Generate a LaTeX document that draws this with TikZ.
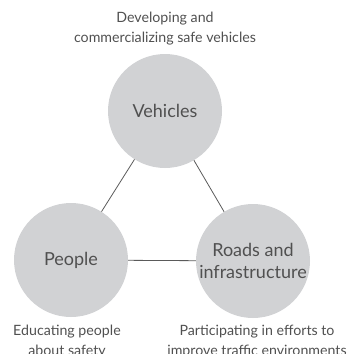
\documentclass[tikz,border=0pt]{standalone}
\usepackage{fontspec}
\setmainfont{Lato}
\definecolor{circfill}{RGB}{209,210,212}
\definecolor{txt}{RGB}{80,80,80}
\definecolor{edge}{RGB}{90,90,90}
\begin{document}
\begin{tikzpicture}[x=1pt,y=-1pt,
  hub/.style={circle,fill=circfill,minimum size=114pt,inner sep=0pt,text=txt,font=\fontsize{18}{22}\selectfont,align=center},
  note/.style={text=txt,font=\fontsize{14.2}{20}\selectfont,align=center,inner sep=0pt},
  link/.style={draw=edge,line width=0.8pt}]
\useasboundingbox (0,0) rectangle (349,354);
\node[hub] (veh) at (165,111) {Vehicles};
\node[hub] (ppl) at (71,260) {People};
\node[hub] (road) at (253,261) {Roads and\\infrastructure};
\draw[link] (veh) -- (ppl);
\draw[link] (veh) -- (road);
\draw[link] (ppl) -- (road);
\node[note,anchor=base] (tv) at (165,42) {Developing and\\commercializing safe vehicles};
\node[note,anchor=base] (tp) at (67,355) {Educating people\\about safety};
\node[note,anchor=base] (tr) at (257,355) {Participating in efforts to\\improve traffic environments};
\end{tikzpicture}
\end{document}
